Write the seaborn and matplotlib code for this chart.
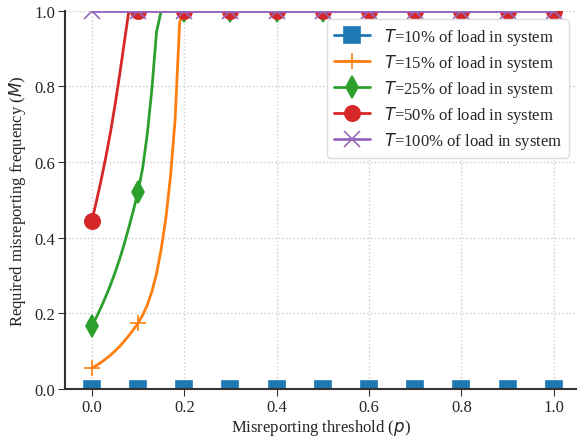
import matplotlib
matplotlib.use("Agg")
import matplotlib.pyplot as plt
import seaborn as sns

# misreporting threshold p: fine grid up to 0.2, then every 0.1
p = [0.00, 0.01, 0.02, 0.03, 0.04, 0.05, 0.06, 0.07, 0.08, 0.09, 0.10,
     0.11, 0.12, 0.13, 0.14, 0.15, 0.16, 0.17, 0.18, 0.19, 0.20,
     0.3, 0.4, 0.5, 0.6, 0.7, 0.8, 0.9, 1.0]

m_10 = [0.0] * 29
m_15 = [0.055, 0.062, 0.070, 0.079, 0.089, 0.100, 0.112, 0.126, 0.141, 0.157, 0.174,
        0.195, 0.222, 0.258, 0.305, 0.370, 0.450, 0.560, 0.710, 0.970, 1.0,
        1.0, 1.0, 1.0, 1.0, 1.0, 1.0, 1.0, 1.0]
m_25 = [0.165, 0.190, 0.216, 0.244, 0.274, 0.307, 0.343, 0.383, 0.427, 0.473, 0.522,
        0.585, 0.675, 0.795, 0.945, 1.0, 1.0, 1.0, 1.0, 1.0, 1.0,
        1.0, 1.0, 1.0, 1.0, 1.0, 1.0, 1.0, 1.0]
m_50 = [0.445, 0.497, 0.552, 0.612, 0.677, 0.750, 0.830, 0.915, 1.0, 1.0, 1.0,
        1.0, 1.0, 1.0, 1.0, 1.0, 1.0, 1.0, 1.0, 1.0, 1.0,
        1.0, 1.0, 1.0, 1.0, 1.0, 1.0, 1.0, 1.0]
m_100 = [1.0] * 29

labels = ["$T$=10% of load in system", "$T$=15% of load in system",
          "$T$=25% of load in system", "$T$=50% of load in system",
          "$T$=100% of load in system"]
series = [m_10, m_15, m_25, m_50, m_100]
markers = ["s", "+", "d", "o", "x"]
marker_idx = [0, 10, 20, 21, 22, 23, 24, 25, 26, 27, 28]

sns.set_style("ticks")
plt.rcParams["font.family"] = ["Liberation Serif", "DejaVu Serif"]
plt.rcParams["font.size"] = 12

fig, ax = plt.subplots(figsize=(5.77, 4.39), dpi=100)
colors = sns.color_palette("tab10")

for i in range(5):
    sns.lineplot(x=p, y=series[i], ax=ax, color=colors[i], marker=markers[i],
                 markevery=marker_idx, markersize=11, markeredgewidth=1.2,
                 markeredgecolor=colors[i], markerfacecolor=colors[i],
                 linewidth=2, label=labels[i], legend=False)

ax.set_xlim(-0.059, 1.05)
ax.set_ylim(0, 1)
ax.set_xticks([0.0, 0.2, 0.4, 0.6, 0.8, 1.0])
ax.set_yticks([0.0, 0.2, 0.4, 0.6, 0.8, 1.0])
ax.set_xlabel("Misreporting threshold ($p$)", fontsize=12, labelpad=1.5)
ax.set_ylabel("Required misreporting frequency ($M$)", fontsize=12, labelpad=4)
ax.tick_params(labelsize=12, color="#333333", length=5, pad=2)
ax.grid(True, linestyle=":", color="#cccccc", linewidth=1)
sns.despine(ax=ax)
for s in ["left", "bottom"]:
    ax.spines[s].set_color("#333333")
    ax.spines[s].set_linewidth(1.5)

ax.legend(loc="upper right", fontsize=12, framealpha=1, edgecolor="#dddddd",
          handlelength=2.2, labelspacing=0.3, borderaxespad=0.5)

fig.subplots_adjust(left=0.112, right=1.0, top=0.973, bottom=0.112)
fig.savefig("out.png", dpi=100)
